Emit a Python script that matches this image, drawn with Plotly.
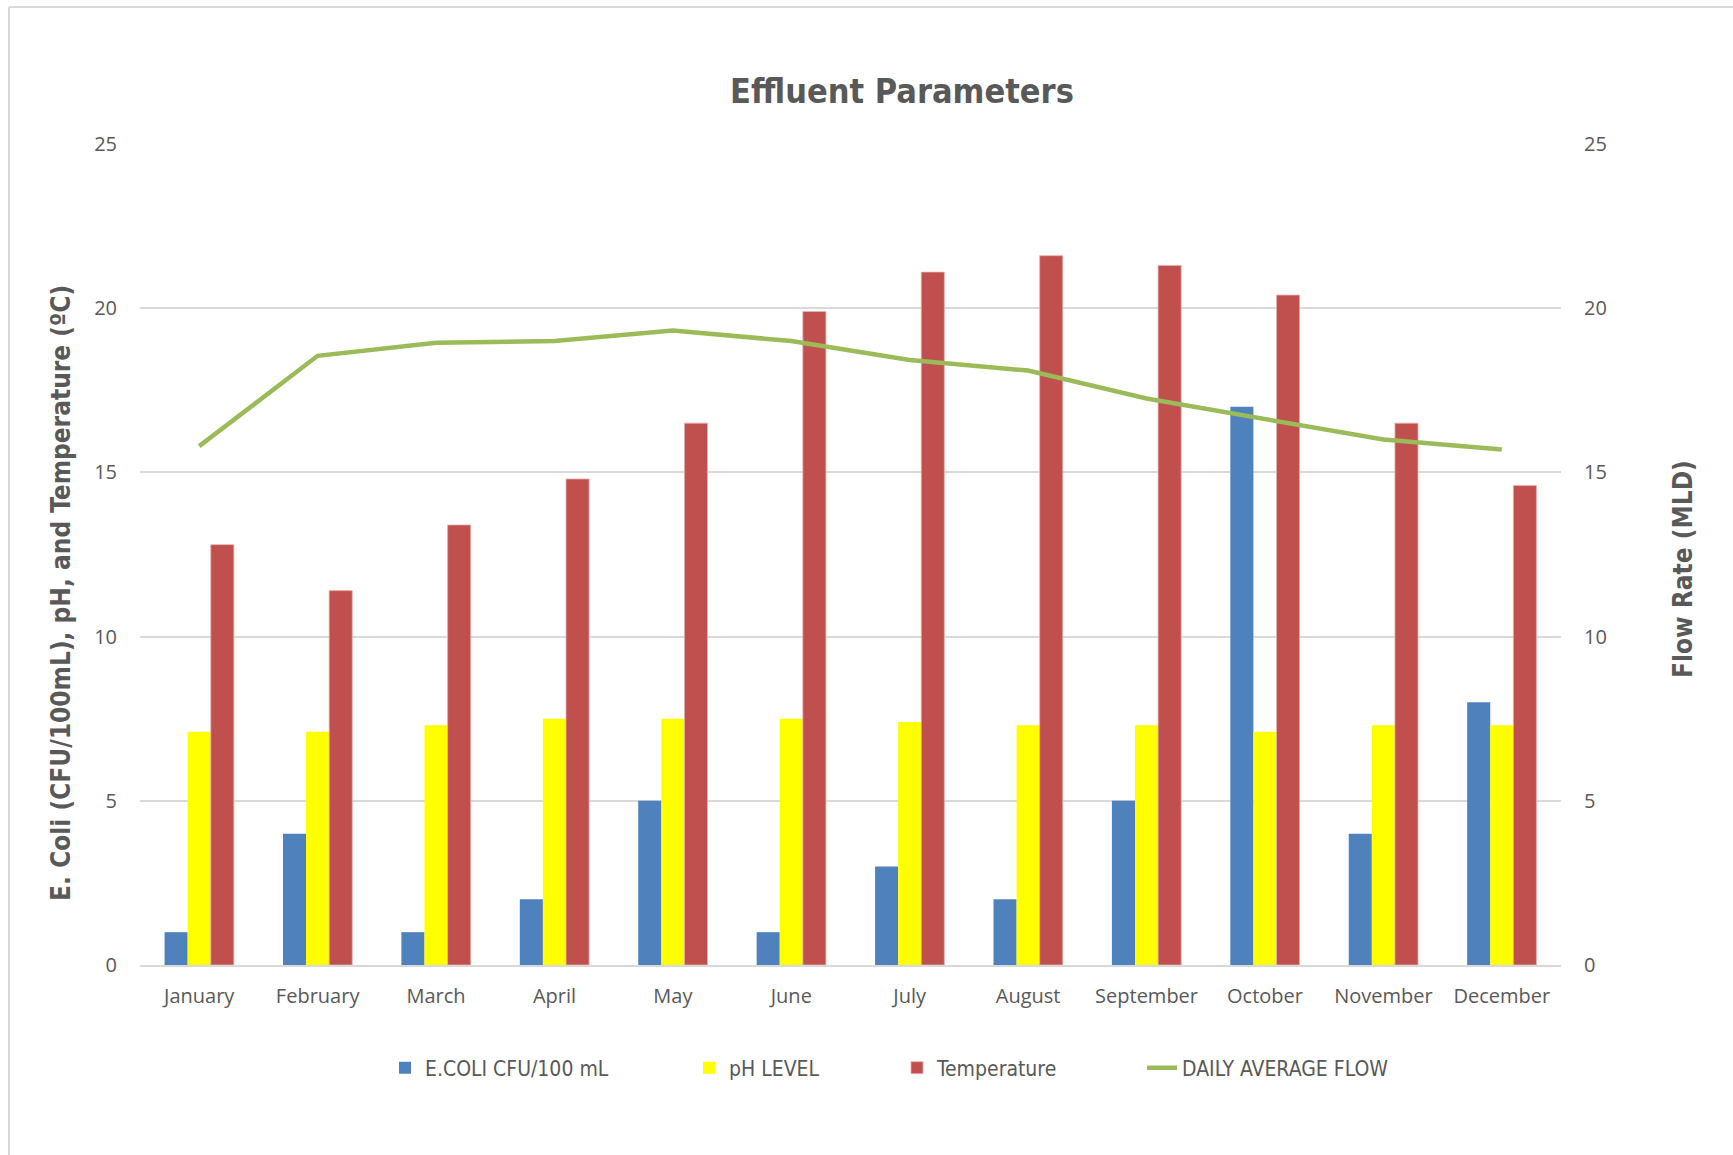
import plotly.graph_objects as go

months = ["January", "February", "March", "April", "May", "June", "July",
          "August", "September", "October", "November", "December"]
ecoli = [1, 4, 1, 2, 5, 1, 3, 2, 5, 17, 4, 8]
ph_level = [7.1, 7.1, 7.3, 7.5, 7.5, 7.5, 7.4, 7.3, 7.3, 7.1, 7.3, 7.3]
temperature = [12.8, 11.4, 13.4, 14.8, 16.5, 19.9, 21.1, 21.6, 21.3, 20.4, 16.5, 14.6]
daily_flow = [15.8, 18.55, 18.95, 19.0, 19.32, 19.0, 18.42, 18.1, 17.25, 16.62, 16.0, 15.7]
y_ticks = [0, 5, 10, 15, 20, 25]

narrow = "Liberation Sans Narrow, DejaVu Sans Condensed, Arial Narrow, sans-serif"
tickfont = dict(family="Open Sans, sans-serif", size=20, color="#595959")

L, R, T, B = 140, 172, 144, 190
W, H = 1733, 1155
PW, PH = W - L - R, H - T - B


def px_x(px):
    return (px - L) / PW


def px_y(py):
    return (H - B - py) / PH


fig = go.Figure()
fig.add_trace(go.Bar(x=months, y=ecoli, name="E.COLI CFU/100 mL", legend="legend",
                     showlegend=True,
                     marker=dict(color="#4F81BD", line=dict(width=0))))
fig.add_trace(go.Bar(x=months, y=ph_level, name="pH LEVEL", legend="legend2",
                     showlegend=True,
                     marker=dict(color="#FFFF00", line=dict(width=0))))
fig.add_trace(go.Bar(x=months, y=temperature, name="Temperature", legend="legend3",
                     showlegend=True,
                     marker=dict(color="#C0504D", line=dict(width=0.8, color="#E8B0AE"))))
fig.add_trace(go.Scatter(x=months, y=daily_flow, name="DAILY AVERAGE FLOW", legend="legend4",
                         showlegend=True, mode="lines", yaxis="y2",
                         line=dict(color="#9BBB59", width=4.5)))

legend_text_starts = [425, 729, 937, 1182]
legend_common = dict(orientation="h", xanchor="left", y=px_y(1068), yanchor="middle",
                     font=dict(family=narrow, size=21, color="#595959"),
                     bgcolor="rgba(0,0,0,0)", visible=True)
legends = {}
for i, ts in enumerate(legend_text_starts):
    key = "legend" if i == 0 else f"legend{i + 1}"
    legends[key] = dict(x=px_x(ts - 40), **legend_common)

title_font = dict(family=narrow, size=26, color="#595959")

fig.update_layout(
    width=W, height=H, autosize=False, showlegend=True,
    margin=dict(l=L, r=R, t=T, b=B, autoexpand=False),
    paper_bgcolor="white", plot_bgcolor="white",
    barmode="group", bargap=0.415, bargroupgap=0,
    title=dict(text="<b>Effluent Parameters</b>", x=0.5205, xref="container",
               y=1 - 91 / H, yanchor="middle", xanchor="center",
               font=dict(family=narrow, size=34, color="#595959")),
    xaxis=dict(tickfont=tickfont, showgrid=False, showline=True, linecolor="#D9D9D9",
               linewidth=2, ticks="", zeroline=False, tickangle=0, automargin=False,
               ticklabelstandoff=12),
    yaxis=dict(range=[0, 25], tickvals=y_ticks, tickfont=tickfont,
               gridcolor="#D9D9D9", gridwidth=1.5, zeroline=False, showline=False,
               ticks="", ticklabelstandoff=22, automargin=False),
    yaxis2=dict(range=[0, 25], tickvals=y_ticks, tickfont=tickfont, overlaying="y",
                side="right", showgrid=False, zeroline=False, showline=False,
                ticks="", ticklabelstandoff=22, automargin=False),
    annotations=[
        dict(text="<b>E. Coli (CFU/100mL), pH, and Temperature (ºC)</b>", textangle=-90,
             xref="paper", yref="paper", x=px_x(61), y=px_y(593),
             xanchor="center", yanchor="middle", showarrow=False, font=title_font),
        dict(text="<b>Flow Rate (MLD)</b>", textangle=-90,
             xref="paper", yref="paper", x=px_x(1683), y=px_y(569),
             xanchor="center", yanchor="middle", showarrow=False, font=title_font),
    ],
    shapes=[
        dict(type="line", xref="paper", yref="paper",
             x0=px_x(9), x1=px_x(9), y0=px_y(7), y1=px_y(1160),
             line=dict(color="#D9D9D9", width=2)),
        dict(type="line", xref="paper", yref="paper",
             x0=px_x(9), x1=px_x(1740), y0=px_y(7), y1=px_y(7),
             line=dict(color="#D9D9D9", width=2)),
    ],
    **legends,
)

fig.write_html("out.html")
